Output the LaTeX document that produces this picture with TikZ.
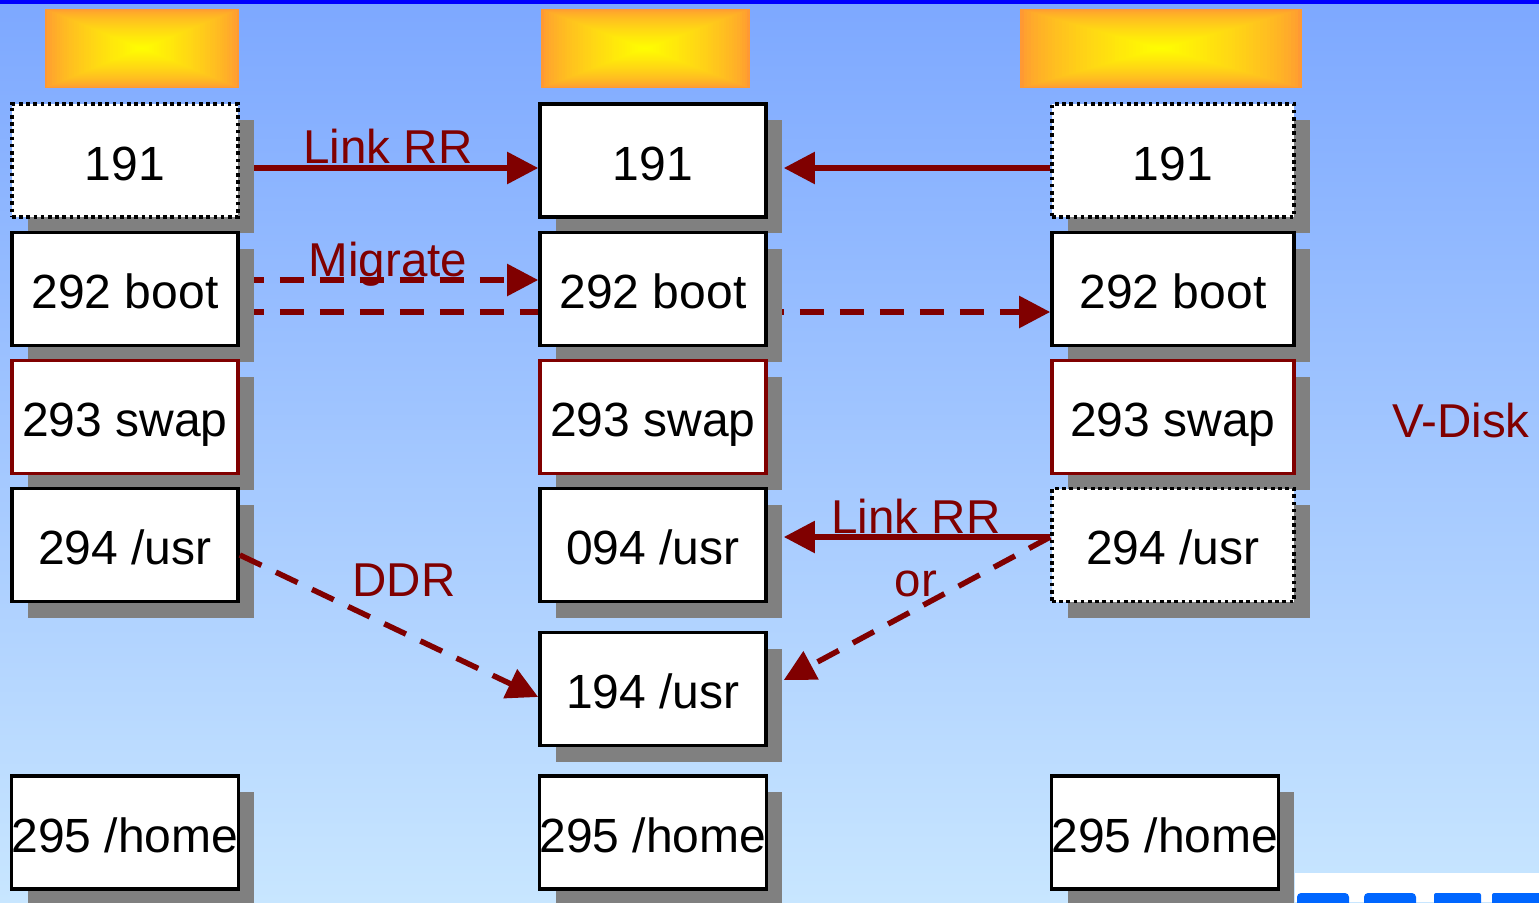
\documentclass[tikz,border=0pt]{standalone}
\usepackage{fontspec}
\setmainfont{Liberation Sans}
\usetikzlibrary{arrows.meta,shadows,calc}
\definecolor{dred}{RGB}{128,0,0}
\definecolor{hdorange}{RGB}{255,153,51}
\definecolor{hdyellow}{RGB}{255,255,0}
\definecolor{bgtop}{RGB}{125,168,255}
\definecolor{bgbot}{RGB}{200,230,255}
\definecolor{logoblue}{RGB}{0,102,255}
\pgfdeclarelayer{bg}\pgfdeclarelayer{mid}\pgfsetlayers{bg,mid,main}
\begin{document}
\begin{tikzpicture}[x=1pt,y=-1pt,
  disk/.style={rectangle, draw=black, line width=3.6pt, fill=white,
    minimum width=226pt, minimum height=113pt, inner sep=0pt,
    font=\fontsize{48}{56}\selectfont, text height=39pt, text depth=0pt,
    drop shadow={shadow xshift=16pt, shadow yshift=-16pt, fill=gray, opacity=1}},
  wide/.style={minimum width=242pt},
  dotbox/.style={dash pattern=on 3.6pt off 3.6pt},
  swapbox/.style={draw=dred},
  conn/.style={draw=dred, line width=5.5pt, -{Triangle[length=31pt,width=31pt]}},
  dsh/.style={conn, dash pattern=on 24pt off 16pt},
  lbl/.style={text=dred, font=\fontsize{47.5}{56}\selectfont, anchor=base, inner sep=0pt}]
\useasboundingbox (0,0) rectangle (1539,902);
\begin{pgfonlayer}{bg}
  \shade[top color=bgtop, bottom color=bgbot] (0,0) rectangle (1539,902);
  \fill[blue] (0,0) rectangle (1539,3.5);
  \fill[white] (1295,873) rectangle (1539,902);
  \begin{scope}
    \clip (1295,873) rectangle (1539,902);
    \fill[logoblue, rounded corners=4pt] (1297,893) rectangle (1349,910);
    \fill[logoblue, rounded corners=4pt] (1364,893) rectangle (1416,910);
    \fill[logoblue, rounded corners=2pt] (1434,893) rectangle (1481,910);
    \fill[logoblue, rounded corners=2pt] (1492,893) rectangle (1545,910);
  \end{scope}
  % header gradient boxes
  \foreach \cx/\cy/\hw/\hh in {142/48.5/97/39.5, 645.5/48.5/104.5/39.5, 1161/48.5/141/39.5}{
    \foreach \i in {0,...,40}{
      \pgfmathsetmacro{\p}{100*(\i/40)^0.7}
      \pgfmathsetmacro{\xa}{\cx-\hw*(1-\i/40)}
      \pgfmathsetmacro{\xb}{\cx+\hw*(1-\i/40)}
      \pgfmathsetmacro{\ya}{\cy-\hh*(1-\i/40)}
      \pgfmathsetmacro{\yb}{\cy+\hh*(1-\i/40)}
      \fill[hdyellow!\p!hdorange] (\xa,\ya) rectangle (\xb,\yb);
    }
  }
\end{pgfonlayer}

% column 1
\node[disk, dotbox] (b11) at (125,160.5) {191};
\node[disk] (b12) at (125,289) {292 boot};
\node[disk, swapbox] (b13) at (125,417) {293 swap};
\node[disk] (b14) at (125,545) {294 /usr};
\node[disk] (b16) at (125,832.5) {295 /home};
% column 2
\node[disk] (b21) at (653,160.5) {191};
\node[disk] (b22) at (653,289) {292 boot};
\node[disk, swapbox] (b23) at (653,417) {293 swap};
\node[disk] (b24) at (653,545) {094 /usr};
\node[disk] (b25) at (653,689) {194 /usr};
\node[disk] (b26) at (653,832.5) {295 /home};
% column 3
\node[disk, wide, dotbox] (b31) at (1173,160.5) {191};
\node[disk, wide] (b32) at (1173,289) {292 boot};
\node[disk, wide, swapbox] (b33) at (1173,417) {293 swap};
\node[disk, wide, dotbox] (b34) at (1173,545) {294 /usr};
\node[disk] (b36) at (1165,832.5) {295 /home};

\node[lbl] (vdisk) at (1461,437) {V-Disk};

% connectors hidden partly behind boxes
\begin{pgfonlayer}{mid}
  \draw[conn] ($(b11.east)+(0,7.5)$) -- ($(b21.west)+(0,7.5)$);
  \draw[dsh] ($(b12.east)+(0,-9)$) -- ($(b22.west)+(0,-9)$);
  \draw[dsh] ($(b12.east)+(0,23)$) -- ($(b32.west)+(0,23)$);
\end{pgfonlayer}
\draw[conn] ($(b31.west)+(0,7.5)$) -- ($(b21.east)+(16,7.5)$);
\draw[dsh] ($(b14.east)+(0,10)$) -- ($(b25.west)+(0,8)$);
\draw[conn] ($(b34.west)+(0,-8)$) -- ($(b24.east)+(16,-8)$);
\draw[dsh] ($(b34.west)+(0,-8)$) -- ($(b25.east)+(16,-9)$);

\node[lbl] (l1) at (388,163) {Link RR};
\node[lbl] (l2) at (388,276) {Migrate};
\node[lbl] (l3) at (404,596) {DDR};
\node[lbl] (l4) at (916,533) {Link RR};
\node[lbl] (l5) at (916,596) {or};
\end{tikzpicture}
\end{document}
